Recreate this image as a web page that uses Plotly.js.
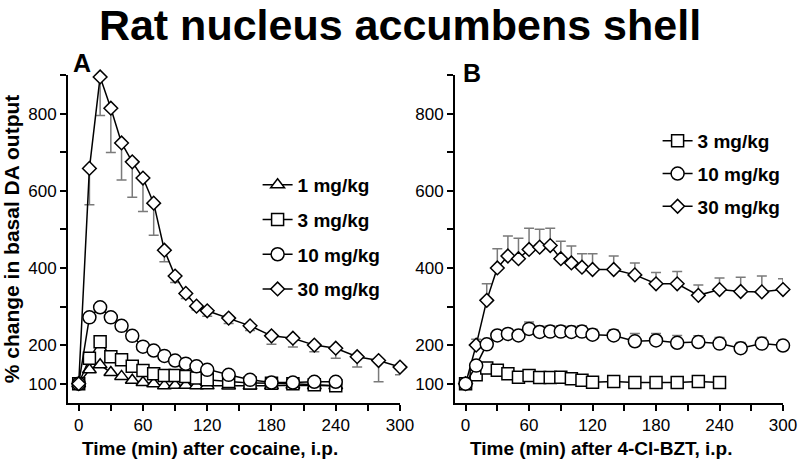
<!DOCTYPE html>
<html>
<head>
<meta charset="utf-8">
<script src="https://cdn.plot.ly/plotly-3.0.1.min.js"></script>
<style>html,body{margin:0;padding:0;background:#fff;}#chart{width:800px;height:466px;}</style>
</head>
<body>
<div id="chart"></div>
<script>
// ---- Panel A: cocaine ----
const timeA = [0, 10, 20, 30, 40, 50, 60, 70, 80, 90, 100, 110, 120, 140, 160, 180, 200, 220, 240];
const timeA30 = [0, 10, 20, 30, 40, 50, 60, 70, 80, 90, 100, 110, 120, 140, 160, 180, 200, 220, 240, 260, 280, 300];
const cocaine1 = [100, 136, 149, 129, 119, 109, 103, 100, 95, 96, 96, 95, 95, 94, 94, 95, 96, 95, 95];
const cocaine3 = [100, 166, 209, 170, 162, 145, 134, 126, 121, 121, 119, 115, 110, 106, 102, 101, 100, 97, 95];
const cocaine10 = [100, 272, 298, 272, 250, 224, 196, 186, 172, 160, 152, 145, 136, 123, 110, 103, 103, 105, 105];
const cocaine30 = [100, 658, 895, 814, 724, 675, 633, 568, 446, 379, 334, 301, 289, 270, 250, 224, 218, 200, 192, 170, 160, 143];
const cocaine30Err = [0, 94, 100, 115, 96, 92, 87, 83, 30, 17, 13, 10, 14, 14, 12, 22, 23, 17, 26, 27, 55, 20];

// ---- Panel B: 4-Cl-BZT ----
const timeB = [0, 10, 20, 30, 40, 50, 60, 70, 80, 90, 100, 110, 120, 140, 160, 180, 200, 220, 240, 260, 280, 300];
const timeB3 = [0, 10, 20, 30, 40, 50, 60, 70, 80, 90, 100, 110, 120, 140, 160, 180, 200, 220, 240];
const bzt3 = [100, 123, 141, 135, 126, 117, 121, 116, 116, 117, 113, 109, 104, 106, 103, 103, 103, 106, 103];
const bzt10 = [100, 147, 202, 225, 229, 225, 242, 234, 235, 235, 234, 235, 227, 225, 210, 212, 206, 208, 204, 192, 204, 199];
const bzt10Err = [0, 8, 10, 10, 12, 12, 18, 15, 15, 15, 15, 15, 14, 15, 20, 18, 19, 16, 16, 15, 16, 14];
const bzt30 = [100, 200, 316, 400, 431, 424, 448, 454, 458, 424, 413, 402, 396, 396, 382, 359, 359, 329, 344, 339, 338, 344];
const bzt30Err = [0, 15, 43, 50, 52, 53, 55, 46, 45, 45, 44, 35, 41, 35, 31, 29, 32, 27, 30, 37, 41, 28];

const doseLabelsA = ['1 mg/kg', '3 mg/kg', '10 mg/kg', '30 mg/kg'];
const doseLabelsB = ['3 mg/kg', '10 mg/kg', '30 mg/kg'];
const xTickVals = [0, 30, 60, 90, 120, 150, 180, 210, 240, 270, 300];
const xTickText = ['0', '', '60', '', '120', '', '180', '', '240', '', '300'];
const yTickVals = [100, 200, 300, 400, 500, 600, 700, 800, 900];
const yTickText = ['100', '200', '', '400', '', '600', '', '800', ''];

const FONT = 'Liberation Sans, Arial, sans-serif';
const lineStyle = {color: 'black', width: 1.5};
function mk(symbol, size) {
  return {symbol: symbol, size: size, color: 'white', line: {color: 'black', width: 1.5}};
}
function errDown(arr) {
  return {type: 'data', symmetric: false, array: arr.map(() => 0), arrayminus: arr, color: '#7a7a7a', thickness: 1.5, width: 5};
}
function errUp(arr) {
  return {type: 'data', symmetric: false, array: arr, arrayminus: arr.map(() => 0), color: '#7a7a7a', thickness: 1.5, width: 5};
}

const common = {mode: 'lines+markers', line: lineStyle, cliponaxis: false};
const traces = [
  Object.assign({x: timeA, y: cocaine1, name: doseLabelsA[0], marker: mk('triangle-up', 12), xaxis: 'x', yaxis: 'y', legend: 'legend', legendgroup: 'a1', legendrank: 1}, common),
  Object.assign({x: timeA, y: cocaine3, name: doseLabelsA[1], marker: mk('square', 12), xaxis: 'x', yaxis: 'y', legend: 'legend', legendgroup: 'a3', legendrank: 2}, common),
  Object.assign({x: timeA, y: cocaine10, name: doseLabelsA[2], marker: mk('circle', 13), xaxis: 'x', yaxis: 'y', legend: 'legend', legendgroup: 'a10', legendrank: 3}, common),
  Object.assign({x: timeA30, y: cocaine30, name: doseLabelsA[3], marker: mk('diamond', 10.5), error_y: errDown(cocaine30Err), xaxis: 'x', yaxis: 'y', legend: 'legend', legendgroup: 'a30', legendrank: 4}, common),
  Object.assign({x: timeB3, y: bzt3, name: doseLabelsB[0], marker: mk('square', 12), xaxis: 'x2', yaxis: 'y2', legend: 'legend2', legendgroup: 'b3', legendrank: 1}, common),
  Object.assign({x: timeB, y: bzt30, name: doseLabelsB[2], marker: mk('diamond', 10.5), error_y: errUp(bzt30Err), xaxis: 'x2', yaxis: 'y2', legend: 'legend2', legendgroup: 'b30', legendrank: 3}, common),
  Object.assign({x: timeB, y: bzt10, name: doseLabelsB[1], marker: mk('circle', 13), error_y: errUp(bzt10Err), xaxis: 'x2', yaxis: 'y2', legend: 'legend2', legendgroup: 'b10', legendrank: 2}, common)
];

function xAxis(domain, anchor) {
  return {domain: domain, range: [-10, 300], anchor: anchor, showgrid: false, zeroline: false,
    showline: true, linecolor: 'black', linewidth: 2, ticks: 'outside', ticklen: 6, tickwidth: 2, tickcolor: 'black',
    tickvals: xTickVals, ticktext: xTickText, tickfont: {family: FONT, size: 17, color: 'black'}, automargin: false};
}
function yAxis(anchor, title) {
  return {domain: [0.1352, 0.839], range: [50, 900], anchor: anchor, showgrid: false, zeroline: false,
    showline: true, linecolor: 'black', linewidth: 2, ticks: 'outside', ticklen: 6, tickwidth: 2, tickcolor: 'black',
    tickvals: yTickVals, ticktext: yTickText, tickfont: {family: FONT, size: 17, color: 'black'},
    title: {text: title, font: {family: FONT, size: 21, color: 'black', weight: 'bold'}, standoff: 3}, automargin: false};
}

const legendFont = {family: FONT, size: 19, color: 'black', weight: 'bold'};
const layout = {
  width: 800, height: 466,
  margin: {l: 0, r: 0, t: 0, b: 0},
  paper_bgcolor: 'white', plot_bgcolor: 'white',
  font: {family: FONT, color: 'black'},
  title: {text: 'Rat nucleus accumbens shell', font: {family: FONT, size: 43, color: 'black', weight: 'bold'},
    x: 0.5, xanchor: 'center', y: 1 - 25 / 466, yanchor: 'middle', xref: 'paper', yref: 'container'},
  xaxis: xAxis([0.085, 0.5], 'y'),
  yaxis: yAxis('x', '% change in basal DA output'),
  xaxis2: xAxis([0.56875, 0.97875], 'y2'),
  yaxis2: yAxis('x2', ''),
  showlegend: true,
  legend: {x: 0.322, y: 1 - 166 / 466, xanchor: 'left', yanchor: 'top', xref: 'paper', yref: 'paper',
    font: legendFont, bgcolor: 'rgba(0,0,0,0)', tracegroupgap: 7, itemwidth: 30, traceorder: 'grouped'},
  legend2: {x: 0.822, y: 1 - 122 / 466, xanchor: 'left', yanchor: 'top', xref: 'paper', yref: 'paper',
    font: legendFont, bgcolor: 'rgba(0,0,0,0)', tracegroupgap: 5, itemwidth: 30, traceorder: 'grouped'},
  annotations: [
    {text: 'A', x: 71 / 800, y: 1 - 63 / 466, xref: 'paper', yref: 'paper', xanchor: 'left', yanchor: 'middle', showarrow: false,
      font: {family: FONT, size: 25, color: 'black', weight: 'bold'}},
    {text: 'B', x: 461 / 800, y: 1 - 73 / 466, xref: 'paper', yref: 'paper', xanchor: 'left', yanchor: 'middle', showarrow: false,
      font: {family: FONT, size: 25, color: 'black', weight: 'bold'}},
    {text: 'Time (min) after cocaine, i.p.', x: 210 / 800, y: 1 - 448 / 466, xref: 'paper', yref: 'paper', xanchor: 'center', yanchor: 'middle', showarrow: false,
      font: {family: FONT, size: 19, color: 'black', weight: 'bold'}},
    {text: 'Time (min) after 4-Cl-BZT, i.p.', x: 601 / 800, y: 1 - 448 / 466, xref: 'paper', yref: 'paper', xanchor: 'center', yanchor: 'middle', showarrow: false,
      font: {family: FONT, size: 19, color: 'black', weight: 'bold'}}
  ]
};

Plotly.newPlot('chart', traces, layout, {staticPlot: true, displayModeBar: false});
</script>
</body>
</html>
